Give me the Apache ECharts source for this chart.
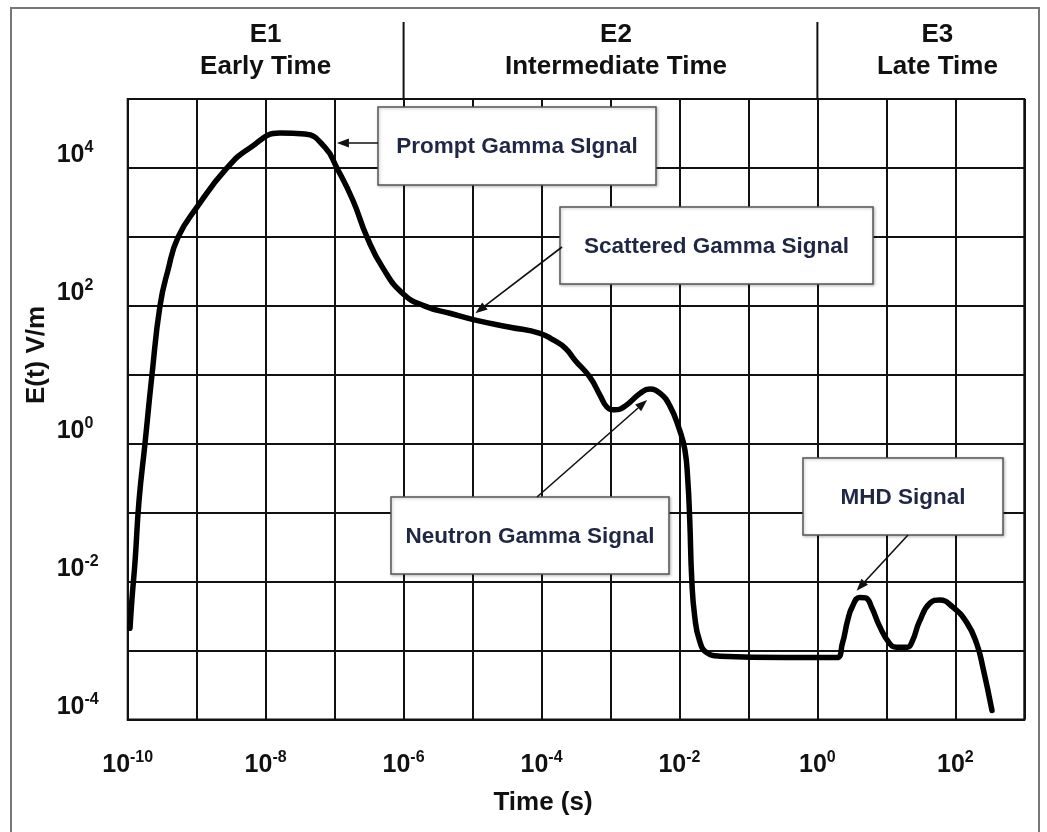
<!DOCTYPE html>
<html><head><meta charset="utf-8">
<script src="https://cdn.jsdelivr.net/npm/echarts@6/dist/echarts.min.js"></script>
<style>html,body{margin:0;padding:0;background:#fff}#c{width:1047px;height:832px}</style>
</head><body><div id="c"></div>
<script>
// ---- data ----
const timeValues = [1.08e-10, 1.15e-10, 1.28e-10, 1.46e-10, 1.78e-10, 2.25e-10, 2.94e-10, 3.84e-10, 5.4e-10, 1.01e-9,
  2.75e-9, 5.9e-9, 1.61e-8, 3.7e-8, 7.2e-8, 1.08e-7, 1.84e-7, 2.94e-7, 5.0e-7, 9.8e-7,
  2.04e-6, 4.7e-6, 1.1e-5, 3.5e-5, 9.5e-5, 1.48e-4, 2.2e-4, 3.1e-4, 5.0e-4, 7.1e-4,
  8.9e-4, 1.15e-3, 1.62e-3, 2.7e-3, 3.7e-3, 5.2e-3, 7.2e-3, 1.0e-2, 1.2e-2, 1.32e-2,
  1.41e-2, 1.51e-2, 1.66e-2, 1.95e-2, 2.5e-2, 3.9e-2, 0.32, 1.9, 2.3, 2.75,
  3.2, 4.1, 5.0, 6.2, 7.9, 11.2, 14, 20, 24, 30,
  43, 59, 91, 148, 204, 250, 340];
const fieldValues = [2.1e-3, 5.4e-3, 2.0e-2, 0.15, 1.0, 10, 100, 330, 1000, 2700,
  1.0e4, 1.95e4, 3.2e4, 3.1e4, 2.0e4, 1.0e4, 3400, 1000, 355, 150,
  99, 78, 62, 49, 40, 32, 24.5, 16, 9.3, 5.0,
  3.4, 3.1, 3.5, 5.4, 6.2, 5.4, 3.6, 1.6, 0.81, 0.30,
  0.078, 0.0105, 3.2e-3, 1.4e-3, 9.3e-4, 8.3e-4, 7.9e-4, 7.9e-4, 1.26e-3, 2.75e-3,
  4.3e-3, 5.9e-3, 5.8e-3, 4.1e-3, 2.3e-3, 1.26e-3, 1.12e-3, 1.12e-3, 1.4e-3, 2.6e-3,
  4.9e-3, 5.4e-3, 4.3e-3, 2.5e-3, 1.26e-3, 5.8e-4, 1.35e-4];
const xLabelExponents = [-10, -8, -6, -4, -2, 0, 2];
const yLabelExponents = [-4, -2, 0, 2, 4];
const eraCodes = ['E1', 'E2', 'E3'];
const eraNames = ['Early Time', 'Intermediate Time', 'Late Time'];
const eraCenters = [1e-8, 1.2e-3, 55];
const eraBoundaries = [1e-6, 1e0];
const annotationTexts = ['Prompt Gamma SIgnal', 'Scattered Gamma Signal', 'Neutron Gamma Signal', 'MHD Signal'];
const annotationTargetTime = [1.08e-7, 1.1e-5, 3.4e-3, 3.7];
const annotationTargetField = [2.3e4, 78, 4.3, 7.4e-3];

// ---- layout ----
const FONT = '"Liberation Sans", Arial, Helvetica, sans-serif';
const TXT = '#111';
const NAVY = '#1f2745';
const boxes = [
  {x: 378, y: 107, w: 278, h: 78, tail: [378, 143]},
  {x: 560, y: 207, w: 313, h: 77, tail: [562, 247]},
  {x: 391, y: 497, w: 278, h: 77, tail: [537, 497]},
  {x: 803, y: 458, w: 200, h: 77, tail: [908, 535]}
];

const chart = echarts.init(document.getElementById('c'), null, {renderer: 'canvas'});

function supLabel(shown) {
  return function (v) {
    const e = Math.round(Math.log10(v));
    if (shown.indexOf(e) < 0) return '';
    return '{b|10}{s|' + e + '}';
  };
}
const rich = {
  b: {fontSize: 25, fontWeight: 'bold', fontFamily: FONT, color: TXT, lineHeight: 28, verticalAlign: 'bottom'},
  s: {fontSize: 16, fontWeight: 'bold', fontFamily: FONT, color: TXT, lineHeight: 16, verticalAlign: 'top'}
};
const gridLine = {show: true, lineStyle: {color: '#111', width: 2, type: 'solid'}};

chart.setOption({
  animation: false,
  backgroundColor: '#fff',
  grid: {left: 127.7, right: 22.7, top: 99, bottom: 112.5, show: true, borderColor: '#111', borderWidth: 2, containLabel: false, outerBoundsMode: 'none'},
  xAxis: {
    type: 'log', logBase: 10, min: 1e-10, max: 1e3, interval: 1,
    axisLine: {show: true, onZero: false, lineStyle: {color: '#111', width: 2}},
    axisTick: {show: false},
    splitLine: gridLine,
    minorSplitLine: {show: false},
    axisLabel: {interval: 0, margin: 30, formatter: supLabel(xLabelExponents), rich: rich, hideOverlap: false, showMinLabel: true, showMaxLabel: true}
  },
  yAxis: {
    type: 'log', logBase: 10, min: 1e-4, max: 1e5, interval: 1,
    axisLine: {show: true, onZero: false, lineStyle: {color: '#111', width: 2}},
    axisTick: {show: false},
    splitLine: gridLine,
    axisLabel: {interval: 0, margin: 71, align: 'left', verticalAlign: 'bottom', formatter: supLabel(yLabelExponents), rich: rich, hideOverlap: false, showMinLabel: true, showMaxLabel: true}
  },
  series: [{
    type: 'line',
    data: timeValues.map((t, i) => [t, fieldValues[i]]),
    showSymbol: false,
    smooth: 0.5,
    lineStyle: {color: '#000', width: 5.5, cap: 'round', join: 'round'},
    z: 5
  }]
});

function px(x, y) { return chart.convertToPixel({gridIndex: 0}, [x, y]); }
const plotTop = px(1, 1e5)[1];

const g = [];
// outer frame
g.push({type: 'rect', shape: {x: 11, y: 8, width: 1028, height: 840}, style: {fill: 'none', stroke: '#777', lineWidth: 2}, z: 1});
// era dividers and labels
eraBoundaries.forEach(b => {
  const x = px(b, 1)[0];
  g.push({type: 'line', shape: {x1: x, y1: 22, x2: x, y2: plotTop}, style: {stroke: '#111', lineWidth: 2}, z: 10});
});
eraCodes.forEach((code, i) => {
  const x = px(eraCenters[i], 1)[0];
  g.push({type: 'text', x: x, y: 35, style: {text: code, font: 'bold 26px ' + FONT, fill: TXT, align: 'center', verticalAlign: 'middle'}, z: 10});
  g.push({type: 'text', x: x, y: 67, style: {text: eraNames[i], font: 'bold 26px ' + FONT, fill: TXT, align: 'center', verticalAlign: 'middle'}, z: 10});
});
// axis names
g.push({type: 'text', x: 543, y: 803, style: {text: 'Time (s)', font: 'bold 26px ' + FONT, fill: TXT, align: 'center', verticalAlign: 'middle'}, z: 10});
g.push({type: 'text', x: 37, y: 355, rotation: Math.PI / 2, style: {text: 'E(t) V/m', font: 'bold 26px ' + FONT, fill: TXT, align: 'center', verticalAlign: 'middle'}, z: 10});
// annotations
annotationTexts.forEach((t, i) => {
  const b = boxes[i];
  g.push({type: 'rect', shape: {x: b.x, y: b.y, width: b.w, height: b.h}, style: {fill: '#fff', stroke: '#555', lineWidth: 1.5, shadowBlur: 3, shadowColor: 'rgba(0,0,0,0.25)', shadowOffsetX: 1, shadowOffsetY: 1}, z: 50});
  g.push({type: 'text', x: b.x + b.w / 2, y: b.y + b.h / 2 + 1, style: {text: t, font: 'bold 22.5px ' + FONT, fill: NAVY, align: 'center', verticalAlign: 'middle'}, z: 51});
  const tip = px(annotationTargetTime[i], annotationTargetField[i]);
  const tail = b.tail;
  const dx = tip[0] - tail[0], dy = tip[1] - tail[1];
  const L = Math.hypot(dx, dy), ux = dx / L, uy = dy / L;
  const len = 12, w = 4.5;
  const bx = tip[0] - ux * len, by = tip[1] - uy * len;
  g.push({type: 'line', shape: {x1: tail[0], y1: tail[1], x2: bx, y2: by}, style: {stroke: '#111', lineWidth: 1.6}, z: 52});
  g.push({type: 'polygon', shape: {points: [tip, [bx - uy * w, by + ux * w], [bx + uy * w, by - ux * w]]}, style: {fill: '#111'}, z: 52});
});
chart.setOption({graphic: {elements: g}});
</script>
</body></html>
